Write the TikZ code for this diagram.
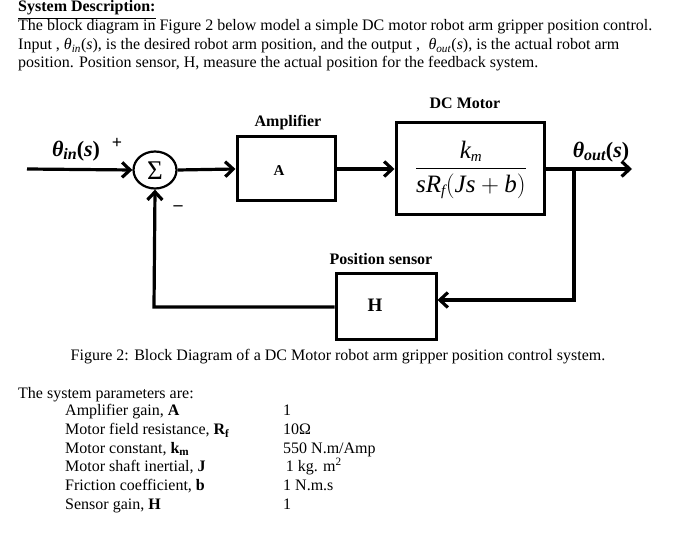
\documentclass[tikz,border=0pt]{standalone}
\usepackage{amsmath}
\usepackage{fontspec}
\setmainfont{Liberation Serif}
\usetikzlibrary{arrows.meta,shapes.geometric}
\newcommand\subsz{\fontsize{15}{15}\selectfont}
\newcommand\thin{\textit{θ}\textsubscript{\textit{in}}(\textit{s})}
\newcommand\thout{\textit{θ}\textsubscript{\textit{out}}(\textit{s})}
\newcommand\bthin{\textit{θ}\raisebox{-0.3ex}{\fontsize{16}{16}\selectfont\textit{in}}(\textit{s})}
\newcommand\bthout{\textit{θ}\raisebox{-0.3ex}{\fontsize{16}{16}\selectfont\textit{out}}(\textit{s})}
\begin{document}
\begin{tikzpicture}[x=1pt,y=-1pt,
  body/.style={anchor=base west,inner sep=0pt,font=\fontsize{16}{18}\selectfont},
  lbl/.style={inner sep=0pt,font=\fontsize{16}{18}\selectfont\bfseries},
  sig/.style={inner sep=0pt,font=\fontsize{22}{22}\selectfont\bfseries},
  blk/.style={draw,line width=3pt,inner sep=0pt},
  wire/.style={line width=3.2pt},
  arr/.style={wire,-{Straight Barb[length=8pt,width=15pt]}}]
\useasboundingbox (0,0) rectangle (678,537);
% description
\node[anchor=base west,inner sep=0pt,font=\fontsize{16}{18}\selectfont\bfseries] (hd) at (18,12) {\underline{System Description:}};
\node[body] (l1) at (18,31) {The block diagram in Figure 2 below model a simple DC motor robot arm gripper position control.};
\node[body] (l2) at (18,49.5) {Input , \thin, is the desired robot arm position, and the output ,\; \thout, is the actual robot arm};
\node[body] (l3) at (18,68) {position. Position sensor, H, measure the actual position for the feedback system.};
% diagram
\coordinate (in) at (27,169);
\node[draw,ellipse,line width=2.2pt,minimum width=43pt,minimum height=37pt,inner sep=0pt] (sum) at (155,170) {};
\node[inner sep=0pt,font=\fontsize{27}{27}\selectfont] (sigma) at (155,171) {Σ};
\node[sig] (thin) at (76,151) {\bthin};
\node[font=\fontsize{18}{18}\selectfont\bfseries,inner sep=0pt] (plus) at (117,143) {+};
\node[font=\fontsize{18}{18}\selectfont\bfseries,inner sep=0pt] (minus) at (178,208) {--};
\node[blk,minimum width=98pt,minimum height=64pt] (amp) at (286,169) {};
\node[lbl,font=\fontsize{15}{16}\selectfont\bfseries] (ampA) at (279,171) {A};
\node[lbl] (ampl) at (288,123) {Amplifier};
\node[blk,minimum width=148pt,minimum height=92pt] (dc) at (470,169) {};
\node[lbl] (dcl) at (465,103) {DC Motor};
\node[inner sep=0pt,font=\fontsize{25}{27}\selectfont] (frac) at (471,170)
  {$\dfrac{\mbox{\itshape k}_{\mbox{\subsz\itshape m}}}{\mbox{\itshape sR}_{\mbox{\subsz\itshape f}}\!\left(\mbox{\itshape Js}+\mbox{\itshape b}\right)}$};
\coordinate (out) at (632,169);
\coordinate (br) at (574,169);
\node[sig] (thout) at (601,152) {\bthout};
\node[blk,minimum width=100pt,minimum height=66pt] (H) at (386,307) {};
\node[lbl,font=\fontsize{19}{20}\selectfont\bfseries] (Hl) at (375,305) {H};
\node[lbl] (psl) at (381,259) {Position sensor};
\coordinate (brd) at (574,300);
\coordinate (fbl) at (154,307);
% wires
\draw[arr] (in) -- (sum.west);
\draw[arr] (sum.east) -- (amp.west);
\draw[arr] (amp.east) -- (dc.west |- amp.east);
\draw[arr] (dc.east |- out) -- (out);
\draw[arr,line join=miter] (br) -- (brd) -- (H.east |- brd);
\draw[arr,line join=miter] (H.west) -- (fbl) -- (sum.south);
% caption
\node[inner sep=0pt,font=\fontsize{16}{18}\selectfont] (cap) at (338,357) {Figure 2: Block Diagram of a DC Motor robot arm gripper position control system.};
% parameters
\node[body] (p0) at (18,399) {The system parameters are:};
\node[body] (p1) at (65,416) {Amplifier gain, \textbf{A}};
\node[body] (p2) at (65,434.6) {Motor field resistance, \textbf{R\textsubscript{f}}};
\node[body] (p3) at (65,453.2) {Motor constant, \textbf{k\textsubscript{m}}};
\node[body] (p4) at (65,471.8) {Motor shaft inertial, \textbf{J}};
\node[body] (p5) at (65,490.4) {Friction coefficient, \textbf{b}};
\node[body] (p6) at (65,509) {Sensor gain, \textbf{H}};
\node[body] (v1) at (283,416) {1};
\node[body] (v2) at (283,434.6) {10Ω};
\node[body] (v3) at (283,453.2) {550 N.m/Amp};
\node[body] (v4) at (283,471.8) {\,1 kg. m\textsuperscript{2}};
\node[body] (v5) at (283,490.4) {1 N.m.s};
\node[body] (v6) at (283,509) {1};
\end{tikzpicture}
\end{document}
